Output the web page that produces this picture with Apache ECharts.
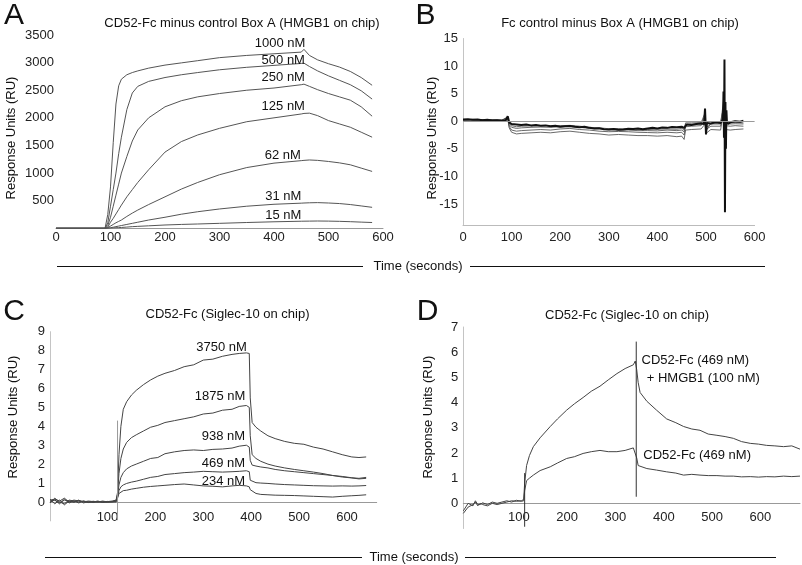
<!DOCTYPE html>
<html><head><meta charset="utf-8">
<script src="https://cdn.jsdelivr.net/npm/echarts@6/dist/echarts.min.js"></script>
<style>html,body{margin:0;padding:0;background:#fff}#c{width:802px;height:565px}</style>
</head><body><div id="c"></div>
<script>
// ---------- Panel A ----------
var tA = [0, 90, 95, 100, 105, 110, 115, 120, 130, 140, 150, 170, 200, 230, 260, 300, 350, 400, 450, 455, 465, 480, 500, 520, 540, 560, 580];
var a1000 = [0, 0, 250, 750, 1550, 2250, 2580, 2700, 2780, 2820, 2850, 2900, 2955, 2995, 3035, 3090, 3130, 3160, 3190, 3240, 3130, 3050, 2980, 2920, 2840, 2730, 2590];
var a500 = [0, 0, 100, 400, 700, 1000, 1350, 1650, 2150, 2450, 2570, 2660, 2730, 2780, 2820, 2870, 2915, 2950, 2985, 2990, 2930, 2850, 2760, 2680, 2600, 2490, 2340];
var a250 = [0, 0, 50, 200, 400, 600, 800, 1000, 1300, 1580, 1780, 2000, 2200, 2310, 2380, 2440, 2500, 2540, 2600, 2610, 2570, 2510, 2440, 2380, 2320, 2200, 2030];
var a125 = [0, 0, 20, 110, 180, 260, 340, 420, 570, 700, 830, 1060, 1380, 1570, 1690, 1810, 1930, 2000, 2070, 2080, 2085, 2040, 1950, 1890, 1830, 1740, 1650];
var a62 = [0, 0, 10, 40, 70, 100, 125, 150, 215, 275, 330, 430, 570, 710, 830, 970, 1100, 1180, 1225, 1230, 1237, 1230, 1210, 1185, 1150, 1090, 1030];
var a31 = [0, 0, 3, 10, 20, 30, 40, 50, 70, 90, 110, 150, 200, 255, 300, 350, 400, 435, 455, 458, 462, 465, 458, 448, 430, 405, 380];
var a15 = [0, 0, 1, 5, 8, 10, 13, 15, 22, 30, 35, 45, 60, 70, 78, 90, 105, 118, 128, 129, 130, 132, 130, 126, 120, 112, 105];
var seriesA = [a1000, a500, a250, a125, a62, a31, a15];
var namesA = ['1000 nM', '500 nM', '250 nM', '125 nM', '62 nM', '31 nM', '15 nM'];
var labelAtA = [[411, 3350], [417, 3047], [417, 2734], [417, 2202], [416, 1327], [417, 585], [417, 241]];
var xTicksA = [0, 100, 200, 300, 400, 500, 600];
var yTicksA = [500, 1000, 1500, 2000, 2500, 3000, 3500];

// ---------- Panel B ----------
var tB = [0,10,20,30,40,50,60,70,80,88,92,95,100,110,120,130,140,150,160,170,180,190,200,210,220,230,240,250,260,270,280,290,300,310,320,330,340,350,360,370,380,390,400,410,420,430,440,450,455,460,470,480,490,496,498,500,502,510,520,530,535,536,537,538,539,540,541,542,543,545,550,560,570,577];
var bMain = [0.3,0.35,0.25,0.3,0.2,0.25,0.15,0.2,0.1, 0.15,0.9,-0.2,
  -0.5,-0.6,-0.7,-0.6,-0.75,-0.7,-0.8,-0.75,-0.9,-0.8,
  -1.0,-0.9,-0.85,-1.0,-1.1,-1.0,-1.2,-1.3,-1.25,-1.45,
  -1.5,-1.4,-1.55,-1.5,-1.35,-1.4,-1.3,-1.45,-1.3,-1.2,
  -1.3,-1.15,-1.2,-1.05,-1.1,-1.0,
  -1.2,-0.6,-0.7,-0.5,-0.4,
  -0.5,2.3,-2.4,-0.3,
  -0.4,-0.2,-0.3,
  0.3,5.4,-3,11.2,-16.5,3.5,-5,2,0,-0.5,
  -0.2,0.0,-0.1,0.1];
var tBt = [0,20,40,60,80,92,95,100,110,120,140,160,180,200,220,240,260,280,300,320,340,360,380,400,420,440,450,455,458,470,490,498,500,510,530,538,539,540,550,560,577];
var bRun1 = [0.2,0.3,0.2,0.2,0.1, 0.5,-1.2,-2.0,-2.3,-2.2, -2.1,-2.0,-2.1,-1.9,-1.8, -2.0,-2.2,-2.3,-2.5,-2.4, -2.5,-2.6,-2.6,-2.7,-2.6, -2.8,-2.7,-3.3,-1.6,-1.5, -1.4,-0.5,-2.2,-1.5,-1.6, 3.0,-8.0,-1.5,-1.6,-1.5, -1.4];
var bRun2 = [0.25,0.2,0.3,0.15,0.2, 0.6,-0.9,-1.6,-1.8,-1.7, -1.6,-1.5,-1.6,-1.4,-1.3, -1.5,-1.6,-1.8,-1.9,-1.85, -1.9,-2.0,-2.05,-2.1,-2.0, -2.1,-2.0,-2.5,-1.0,-0.9, -0.8,0.5,-1.5,-0.9,-0.9, 4.0,-6.0,-0.8,-0.9,-0.8, -0.9];
var bRun3 = [0.3,0.25,0.2,0.25,0.15, 0.7,-0.6,-1.1,-1.3,-1.2, -1.1,-1.05,-1.1,-1.0,-0.95, -1.1,-1.3,-1.4,-1.55,-1.6, -1.6,-1.7,-1.7,-1.75,-1.6, -1.7,-1.6,-1.9,-0.6,-0.5, -0.45,1.0,-1.2,-0.5,-0.5, 5.0,-4.0,-0.4,-0.5,-0.45, -0.5];
var bRun4 = [0.2,0.35,0.25,0.2,0.2, 0.8,-0.4,-0.8,-1.0,-0.9, -0.85,-0.8,-0.85,-0.8,-0.75, -0.9,-1.1,-1.2,-1.35,-1.35, -1.4,-1.45,-1.5,-1.45,-1.4, -1.45,-1.3,-1.5,-0.3,-0.3, -0.25,1.5,-1.8,-0.3,-0.3, 3.5,-3.0,-0.2,-0.3,-0.2, -0.3];
var xTicksB = [0, 100, 200, 300, 400, 500, 600];
var yTicksB = [-15, -10, -5, 0, 5, 10, 15];

// ---------- Panel C ----------
var tC = [-20,-10,0,10,20,30,40,50,60,70,80,90,100,110,118,121,124,128,133,140,150,160,175,190,205,220,240,260,280,300,320,340,360,375,390,396,398,402,410,420,435,450,470,490,510,530,550,570,590,610,625,640];
var c3750 = [0.1,0.15,0.05,0.2,0.0,0.1,0.05,0.0,0.05,0.02,0.03,0.0,0.02,0.05,0.1, 0.5,2.5,4.0,4.9,5.3, 5.65,5.9,6.2,6.45,6.65,6.8,6.95,7.15,7.25,7.5, 7.55,7.7,7.8,7.85,7.88,7.85,5.5,4.2,3.95,3.75, 3.5,3.35,3.2,3.1,3.05,2.9,2.8,2.65,2.5,2.38, 2.35,2.38];
var c1875 = [0.05,0.1,-0.05,0.1,0.05,-0.02,0.08,0.02,-0.02,0.04,0.0,0.05,0.0,0.03,0.08, 0.4,1.5,2.3,2.8,3.15, 3.4,3.55,3.75,3.95,4.05,4.2,4.3,4.4,4.5,4.65, 4.7,4.85,4.9,5.05,5.1,5.0,3.5,2.5,2.3,2.15, 2.0,1.9,1.8,1.72,1.65,1.58,1.5,1.4,1.32,1.27, 1.22,1.25];
var c938 = [-0.05,0.2,0.0,-0.1,0.1,0.05,-0.05,0.05,0.0,0.0,0.05,-0.02,0.03,0.0,0.05, 0.3,0.9,1.3,1.55,1.75, 1.9,2.0,2.15,2.3,2.35,2.55,2.65,2.72,2.75,2.72, 2.78,2.8,2.85,2.95,3.0,2.9,2.2,1.95,1.9,1.85, 1.8,1.72,1.65,1.6,1.55,1.5,1.45,1.4,1.35,1.28, 1.25,1.3];
var c469 = [0.15,-0.1,0.1,-0.15,0.05,0.0,0.1,-0.05,0.02,-0.03,0.0,0.02,-0.02,0.02,0.0, 0.25,0.6,0.8,0.9,0.98, 1.05,1.1,1.2,1.3,1.35,1.45,1.5,1.55,1.58,1.62, 1.6,1.58,1.6,1.62,1.65,1.6,1.15,1.05,1.02,1.0, 0.98,0.95,0.92,0.9,0.88,0.86,0.85,0.84,0.85,0.84, 0.85,0.87];
var c234 = [0.0,0.1,-0.1,0.15,-0.05,0.05,0.0,0.05,-0.03,0.02,0.0,-0.02,0.0,0.0,0.02, 0.2,0.45,0.55,0.6,0.62, 0.68,0.72,0.78,0.82,0.85,0.88,0.92,0.95,0.9,0.85, 0.83,0.8,0.85,0.88,0.85,0.8,0.65,0.55,0.45,0.4, 0.38,0.36,0.35,0.34,0.32,0.3,0.28,0.26,0.3,0.33, 0.35,0.38];
var seriesC = [c3750, c1875, c938, c469, c234];
var namesC = ['3750 nM', '1875 nM', '938 nM', '469 nM', '234 nM'];
var labelAtC = [[338, 8.18], [335, 5.57], [342, 3.45], [342, 2.05], [342, 1.07]];
var injC_t = [121, 121];
var injC_v = [-0.96, 4.3];
var xTicksC = [100, 200, 300, 400, 500, 600];
var yTicksC = [0, 1, 2, 3, 4, 5, 6, 7, 8, 9];

// ---------- Panel D ----------
var tD = [-15,-5,5,10,15,20,25,35,45,55,65,75,85,95,105,110,112,116,122,130,144,165,180,199,215,233,250,268,285,303,320,337,341,344,347,351,365,385,406,425,441,458,475,492,510,527,544,561,579,596,613,630,648,665,682];
var dHmgb1 = [-0.4,-0.15,-0.05,0.05,-0.1,0.0,-0.05,-0.1,0.0,-0.05, 0.0,0.05,0.1,0.08,0.1,0.15,0.8,1.5,1.9,2.25, 2.6,3.05,3.35,3.7,3.95,4.2,4.45,4.65,4.9,5.15, 5.35,5.5,5.65,5.3,4.8,4.4,4.05,3.7,3.35,3.2, 3.05,2.95,2.9,2.75,2.7,2.65,2.58,2.45,2.38,2.35, 2.3,2.28,2.25,2.28,2.15];
var dAlone = [-0.3,0.0,-0.1,0.1,-0.05,-0.05,0.02,-0.05,0.05,0.0, 0.05,0.1,0.05,0.12,0.08,0.1,0.5,0.9,1.0,1.12, 1.3,1.45,1.6,1.78,1.85,1.98,2.05,2.1,2.05,2.05, 2.1,2.2,2.22,1.8,1.5,1.45,1.38,1.32,1.25,1.2, 1.12,1.15,1.12,1.1,1.1,1.08,1.08,1.05,1.06,1.04, 1.06,1.05,1.08,1.06,1.08];
var injD_t = [112, 112];
var injD_v = [-0.93, 1.2];
var dissD_t = [343, 343];
var dissD_v = [0.26, 6.42];
var namesD = ['CD52-Fc (469 nM)', '+ HMGB1 (100 nM)', 'CD52-Fc (469 nM)'];
var labelAtD = [[354, 5.69], [364.7, 4.96], [357.7, 1.92]];
var xTicksD = [100, 200, 300, 400, 500, 600];
var yTicksD = [0, 1, 2, 3, 4, 5, 6, 7];

// ---------- build ----------
var FONT = '"Liberation Sans", Arial, Helvetica, sans-serif';
var TXT = '#222';
var FS = 13;
function zip(t, v) { return t.map(function (x, i) { return [x, v[i]]; }); }
function plain(v) { return String(v); }
function lineS(idx, t, v, color, width) {
  return { type: 'line', xAxisIndex: idx, yAxisIndex: idx, data: zip(t, v), showSymbol: false, symbol: 'none',
    lineStyle: { color: color, width: width }, silent: true, animation: false, z: 3 };
}
function labelS(idx, at, names, align) {
  return { type: 'scatter', xAxisIndex: idx, yAxisIndex: idx, symbolSize: 0, silent: true, animation: false, z: 5,
    itemStyle: { opacity: 1 },
    data: at.map(function (p, i) { return [p[0], p[1], names[i]]; }),
    label: { show: true, position: 'inside', align: align, verticalAlign: 'middle', formatter: function (p) { return p.data[2]; },
      color: '#111', opacity: 1, fontSize: FS, fontFamily: FONT } };
}
function xAx(idx, min, max, ticks, margin, offset, lineColor) {
  return { gridIndex: idx, type: 'value', min: min, max: max, offset: offset,
    axisLine: { show: true, onZero: false, lineStyle: { color: lineColor, width: 1 } },
    axisTick: { show: false }, splitLine: { show: false },
    axisLabel: { customValues: ticks, formatter: plain, margin: margin, color: TXT, fontSize: FS, fontFamily: FONT } };
}
function yAx(idx, min, max, ticks, showLine, margin) {
  return { gridIndex: idx, type: 'value', min: min, max: max,
    axisLine: { show: showLine, onZero: false, lineStyle: { color: '#c4c4c4', width: 1 } },
    axisTick: { show: false }, splitLine: { show: false },
    axisLabel: { customValues: ticks, formatter: plain, margin: margin, color: TXT, fontSize: FS, fontFamily: FONT } };
}

var series = [];
seriesA.forEach(function (v) { series.push(lineS(0, tA, v, '#555', 1)); });
series.push(labelS(0, labelAtA, namesA, 'center'));

[bRun1, bRun2, bRun3, bRun4].forEach(function (v) { series.push(lineS(1, tBt, v, '#444', 0.8)); });
var bm = lineS(1, tB, bMain, '#111', 2);
bm.markLine = { silent: true, symbol: 'none', label: { show: false }, animation: false,
  lineStyle: { color: '#999', width: 1, type: 'solid' }, data: [{ yAxis: 0 }] };
series.push(bm);

seriesC.forEach(function (v) { series.push(lineS(2, tC, v, '#444', 1)); });
series.push(lineS(2, injC_t, injC_v, '#999', 1));
series.push(labelS(2, labelAtC, namesC, 'center'));

series.push(lineS(3, tD, dHmgb1, '#444', 1));
series.push(lineS(3, tD, dAlone, '#444', 1));
series.push(lineS(3, injD_t, injD_v, '#333', 1));
series.push(lineS(3, dissD_t, dissD_v, '#333', 1));
series.push(labelS(3, labelAtD, namesD, 'left'));

function txt(x, y, text, size, align) {
  return { type: 'text', x: x, y: y, silent: true,
    style: { text: text, fontSize: size, fontFamily: FONT, fill: '#111', align: align || 'center', verticalAlign: 'middle' } };
}
function vtxt(x, y, text) {
  return { type: 'text', x: x, y: y, rotation: Math.PI / 2, silent: true,
    style: { text: text, fontSize: FS, fontFamily: FONT, fill: '#111', align: 'center', verticalAlign: 'middle' } };
}
function hline(x1, x2, y) {
  return { type: 'line', silent: true, shape: { x1: x1, y1: y, x2: x2, y2: y }, style: { stroke: '#111', lineWidth: 1 } };
}

var option = {
  backgroundColor: '#fff',
  animation: false,
  grid: [
    { left: 56, top: 35, width: 327, height: 193.3 },
    { left: 463, top: 38.5, width: 291.6, height: 187 },
    { left: 50, top: 331.7, width: 326.7, height: 189.2 },
    { left: 463.3, top: 327, width: 336.7, height: 201.5 }
  ],
  xAxis: [
    xAx(0, 0, 600, xTicksA, 3, 0, '#999'),
    xAx(1, 0, 600, xTicksB, 5, 0, '#bbb'),
    xAx(2, -20, 662, xTicksC, 9, -18.9, '#999'),
    xAx(3, -15, 682, xTicksD, 8, -25.2, '#999')
  ],
  yAxis: [
    yAx(0, 0, 3500, yTicksA, false, 2),
    yAx(1, -18.9, 15, yTicksB, true, 5),
    yAx(2, -1, 9, yTicksC, true, 5),
    yAx(3, -1, 7, yTicksD, true, 5)
  ],
  series: series,
  graphic: [
    txt(14, 16, 'A', 30), txt(425.5, 16, 'B', 30), txt(14, 311.5, 'C', 30), txt(427.5, 311.5, 'D', 30),
    txt(242, 23, 'CD52-Fc minus control Box A (HMGB1 on chip)', FS),
    txt(620, 23, 'Fc control minus Box A (HMGB1 on chip)', FS),
    txt(227.5, 314, 'CD52-Fc (Siglec-10 on chip)', FS),
    txt(627, 315, 'CD52-Fc (Siglec-10 on chip)', FS),
    vtxt(11, 138, 'Response Units (RU)'), vtxt(432, 138, 'Response Units (RU)'),
    vtxt(13, 417, 'Response Units (RU)'), vtxt(428, 417, 'Response Units (RU)'),
    hline(57, 363, 266.5), hline(470, 765, 266.5), txt(418, 266, 'Time (seconds)', FS),
    hline(45, 362, 557.5), hline(465, 776, 557.5), txt(414, 557, 'Time (seconds)', FS)
  ]
};
var chart = echarts.init(document.getElementById('c'), null, { renderer: 'canvas' });
chart.setOption(option);
</script>
</body></html>
